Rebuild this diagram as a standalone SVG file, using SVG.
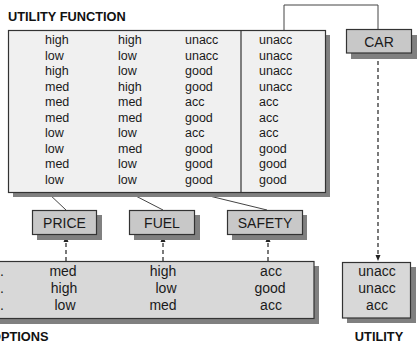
<svg xmlns="http://www.w3.org/2000/svg" width="417" height="345" viewBox="0 0 417 345">
<style>
.t{font-family:"Liberation Sans",Arial,sans-serif;font-size:12.5px;fill:#1a1a1a}
.t2{font-family:"Liberation Sans",Arial,sans-serif;font-size:14px;fill:#1a1a1a;text-anchor:middle}
.lbl{font-family:"Liberation Sans",Arial,sans-serif;font-size:14px;fill:#1a1a1a;text-anchor:middle}
.h{font-family:"Liberation Sans",Arial,sans-serif;font-size:12.8px;font-weight:bold;fill:#111}
.c{text-anchor:middle}
.sh{fill:#808080}
.box{stroke:#333;stroke-width:1.2}
.conn{fill:none;stroke:#444;stroke-width:1}
.dash{fill:none;stroke:#222;stroke-width:1.2;stroke-dasharray:4 3}
</style>
<defs>
<marker id="ar" markerWidth="6" markerHeight="6" refX="3" refY="3" orient="auto" markerUnits="userSpaceOnUse">
<path d="M0,0.5 L6,3 L0,5.5 Z" fill="#222"/>
</marker>
</defs>
<rect width="417" height="345" fill="#fff"/>
<text class="h" x="8" y="21">UTILITY FUNCTION</text>
<g id="connectors">
<path class="conn" d="M284,30 V5 H378 V29"/>
<line class="conn" x1="48" y1="193" x2="66" y2="210"/>
<line class="conn" x1="130" y1="193" x2="163" y2="210"/>
<line class="conn" x1="193" y1="192" x2="267" y2="210"/>
<line class="dash" x1="378" y1="54" x2="378" y2="258" marker-end="url(#ar)"/>
<line class="dash" x1="66" y1="261" x2="66" y2="239" marker-end="url(#ar)"/>
<line class="dash" x1="163" y1="261" x2="163" y2="239" marker-end="url(#ar)"/>
<line class="dash" x1="268" y1="261" x2="268" y2="239" marker-end="url(#ar)"/>
</g>
<g id="utility-function">
<rect class="sh" x="13" y="35" width="317" height="162"/>
<rect class="box" x="8.5" y="30.5" width="317" height="162" fill="#f0f0f0"/>
<line class="box" x1="241" y1="30.5" x2="241" y2="192.5"/>
<g class="t">
<text x="45" y="44">high</text><text x="118" y="44">high</text><text x="185" y="44">unacc</text><text x="259" y="44">unacc</text>
<text x="45" y="59.5">low</text><text x="118" y="59.5">low</text><text x="185" y="59.5">unacc</text><text x="259" y="59.5">unacc</text>
<text x="45" y="75">high</text><text x="118" y="75">low</text><text x="185" y="75">good</text><text x="259" y="75">unacc</text>
<text x="45" y="90.5">med</text><text x="118" y="90.5">high</text><text x="185" y="90.5">good</text><text x="259" y="90.5">unacc</text>
<text x="45" y="106">med</text><text x="118" y="106">med</text><text x="185" y="106">acc</text><text x="259" y="106">acc</text>
<text x="45" y="121.5">med</text><text x="118" y="121.5">med</text><text x="185" y="121.5">good</text><text x="259" y="121.5">acc</text>
<text x="45" y="137">low</text><text x="118" y="137">low</text><text x="185" y="137">acc</text><text x="259" y="137">acc</text>
<text x="45" y="152.5">low</text><text x="118" y="152.5">med</text><text x="185" y="152.5">good</text><text x="259" y="152.5">good</text>
<text x="45" y="168">med</text><text x="118" y="168">low</text><text x="185" y="168">good</text><text x="259" y="168">good</text>
<text x="45" y="183.5">low</text><text x="118" y="183.5">low</text><text x="185" y="183.5">good</text><text x="259" y="183.5">good</text>
</g>
</g>
<g id="car">
<rect class="sh" x="351" y="35" width="66" height="24"/>
<rect class="box" x="346.5" y="29.5" width="65" height="23.5" fill="#c8c8c8"/>
<text class="lbl" x="379" y="46.5">CAR</text>
</g>
<g id="price">
<rect class="sh" x="37" y="215" width="65" height="25"/>
<rect class="box" x="32.5" y="210.5" width="64" height="24" fill="#c8c8c8"/>
<text class="lbl" x="64.5" y="228">PRICE</text>
</g>
<g id="fuel">
<rect class="sh" x="134" y="215" width="66" height="25"/>
<rect class="box" x="129.5" y="210.5" width="65" height="24" fill="#c8c8c8"/>
<text class="lbl" x="162" y="228">FUEL</text>
</g>
<g id="safety">
<rect class="sh" x="232" y="215" width="75" height="25"/>
<rect class="box" x="227.5" y="210.5" width="75" height="24" fill="#c8c8c8"/>
<text class="lbl" x="265" y="228">SAFETY</text>
</g>
<g id="options">
<rect class="sh" x="-5" y="266" width="324" height="58"/>
<rect class="box" x="-10" y="261.5" width="324" height="57" fill="#d8d8d8"/>
<g class="t2">
<text x="2" y="276">.</text><text x="63" y="276">med</text><text x="163" y="276">high</text><text x="271" y="276">acc</text>
<text x="2" y="293">.</text><text x="64" y="293">high</text><text x="166" y="293">low</text><text x="270" y="293">good</text>
<text x="2" y="310">.</text><text x="65" y="310">low</text><text x="163" y="310">med</text><text x="271" y="310">acc</text>
</g>
<text class="h" x="-9" y="341">OPTIONS</text>
</g>
<g id="utility">
<rect class="sh" x="347" y="267" width="69" height="56"/>
<rect class="box" x="342.5" y="262.5" width="68" height="55.5" fill="#d8d8d8"/>
<g class="t2">
<text x="377" y="276">unacc</text>
<text x="377" y="293">unacc</text>
<text x="377" y="310">acc</text>
</g>
<text class="h c" x="379" y="341">UTILITY</text>
</g>
</svg>
